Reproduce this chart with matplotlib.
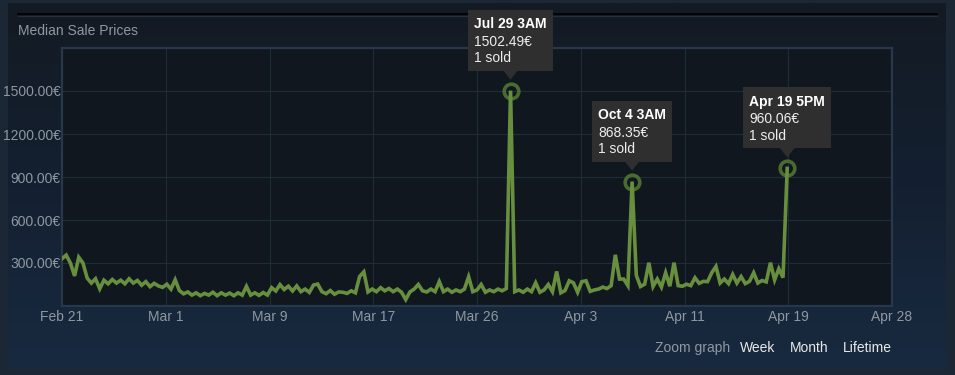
import matplotlib

matplotlib.use("Agg")
import matplotlib.pyplot as plt
import matplotlib.dates as mdates
import matplotlib.transforms as mtransforms
from matplotlib.colors import LinearSegmentedColormap
from matplotlib.lines import Line2D
from matplotlib.patches import Polygon, Rectangle
import numpy as np
import pandas as pd

plt.rcParams["font.family"] = ["Liberation Sans", "DejaVu Sans"]

# ---- data ----
title = "Median Sale Prices"
x_start = "2023-02-21"
x_end = "2023-04-28"
x_tick_labels = ["Feb 21", "Mar 1", "Mar 9", "Mar 17", "Mar 26",
                 "Apr 3", "Apr 11", "Apr 19", "Apr 28"]
y_ticks = [300, 600, 900, 1200, 1500]
y_max = 1800

# median price, one value every 8 hours from Feb 21
prices = [
    330, 355, 300, 210, 340, 300, 195, 160, 190, 120,
    180, 155, 185, 160, 180, 155, 190, 160, 178, 145,
    170, 135, 158, 140, 130, 152, 118, 183, 108, 85,
    98, 76, 92, 72, 88, 76, 96, 72, 92, 76,
    90, 72, 92, 76, 137, 76, 92, 74, 94, 76,
    128, 105, 149, 115, 138, 105, 140, 100, 118, 95,
    146, 153, 100, 86, 108, 82, 98, 96, 88, 106,
    92, 206, 238, 98, 118, 100, 128, 106, 122, 100,
    118, 96, 45, 98, 118, 150, 106, 98, 118, 100,
    170, 100, 118, 96, 112, 100, 118, 204, 100, 112,
    150, 96, 112, 100, 118, 106, 122, 1502.49, 100, 112,
    96, 118, 100, 162, 96, 112, 150, 100, 241, 92,
    108, 176, 162, 96, 170, 176, 102, 112, 118, 132,
    122, 142, 357, 188, 188, 142, 868.35, 214, 136, 152,
    302, 136, 188, 132, 232, 138, 302, 142, 138, 152,
    142, 197, 158, 172, 170, 232, 276, 160, 188, 156,
    220, 160, 205, 156, 172, 232, 160, 178, 168, 302,
    182, 260, 198, 960.06,
]
dates = pd.date_range(x_start, periods=len(prices), freq="8h")

# highlighted sales (tooltips)
tip_index = [107, 136, 173]
tip_titles = ["Jul 29 3AM", "Oct 4 3AM", "Apr 19 5PM"]
tip_prices = ["1502.49€", "868.35€", "960.06€"]
tip_sold = ["1 sold", "1 sold", "1 sold"]

zoom_label = "Zoom graph"
zoom_links = ["Week", "Month", "Lifetime"]

# ---- figure ----
W, H = 955, 375
fig = plt.figure(figsize=(W / 100, H / 100), dpi=100)
fig.patch.set_facecolor("#1c2736")

# inner panel with soft vertical gradient
bg = fig.add_axes([8 / W, 6 / H, 937 / W, 366 / H], zorder=0)
grad = np.linspace(0, 1, 256).reshape(-1, 1)
bg.imshow(grad, aspect="auto", extent=[0, 1, 0, 1], origin="upper",
          cmap=LinearSegmentedColormap.from_list("bg", ["#131a23", "#142031", "#182a40"]))
bg.axis("off")

# header rule + title
fig.add_artist(Line2D([18 / W, 937 / W], [1 - 14 / H] * 2, color="#000000", lw=1.2, zorder=2))
fig.add_artist(Line2D([18 / W, 937 / W], [1 - 15.5 / H] * 2, color="#233040", lw=0.8, zorder=2))
fig.text(18 / W, 1 - 31 / H, title, color="#8f98a0", fontsize=10, va="center", zorder=3)

# ---- chart ----
ax = fig.add_axes([62 / W, 69 / H, 830 / W, 258 / H], zorder=2)
ax.set_facecolor("#10171f")
for sp in ax.spines.values():
    sp.set_color("#28384a")
    sp.set_linewidth(1.6)

x0, x1 = mdates.date2num(pd.Timestamp(x_start)), mdates.date2num(pd.Timestamp(x_end))
ax.set_xlim(x0, x1)
ax.set_ylim(0, y_max)
ax.set_xticks(np.linspace(x0, x1, len(x_tick_labels)))
ax.set_xticklabels(x_tick_labels)
ax.set_yticks(y_ticks)
ax.set_yticklabels([f"{v:.2f}€" for v in y_ticks])
ax.tick_params(length=0, colors="#8f98a0", labelsize=10)
ax.tick_params(axis="y", pad=1)
ax.tick_params(axis="x", pad=3)
ax.grid(True, color="#1f2c3a", lw=0.8)
ax.set_axisbelow(True)

ax.plot(dates, prices, color="#688f3e", lw=2.6, solid_joinstyle="miter", zorder=3)
for i in tip_index:
    ax.plot(dates[i], prices[i], marker="o", ms=10.5, mfc="none",
            mec="#4b6a2e", mew=2.6, zorder=2.5)

# ---- tooltips (drawn in pixel space above the points) ----
ident = mtransforms.IdentityTransform()
renderer = fig.canvas.get_renderer()
for i, t1, t2, t3 in zip(tip_index, tip_titles, tip_prices, tip_sold):
    px, py = ax.transData.transform((mdates.date2num(dates[i]), prices[i]))
    texts = [
        fig.text(0, py + 62.3, t1, fontsize=10, fontweight="bold", color="#ffffff",
                 transform=ident, zorder=11),
        fig.text(0, py + 45, t2, fontsize=10, color="#eeeeee", transform=ident, zorder=11),
        fig.text(0, py + 28.3, t3, fontsize=10, color="#eeeeee", transform=ident, zorder=11),
    ]
    tw = max(t.get_window_extent(renderer).width for t in texts)
    bw = tw + 12
    left = px - bw / 2
    for t in texts:
        t.set_position((left + 6, t.get_position()[1]))
        t.set_va("baseline")
    fig.add_artist(Rectangle((left, py + 20), bw, 61, transform=ident,
                             facecolor="#2f2f2f", edgecolor="none", zorder=10))
    fig.add_artist(Polygon([(px - 7.5, py + 20.5), (px + 7.5, py + 20.5), (px, py + 11)],
                           closed=True, transform=ident, facecolor="#2f2f2f",
                           edgecolor="none", zorder=10))

# ---- zoom links ----
fig.text(655 / W, 1 - 348 / H, zoom_label, color="#8f98a0", fontsize=10, va="center")
for xpix, lbl in zip([740, 790, 843], zoom_links):
    fig.text(xpix / W, 1 - 348 / H, lbl, color="#e8e8e8", fontsize=10, va="center")

fig.savefig("out.png", dpi=100, facecolor=fig.get_facecolor())
